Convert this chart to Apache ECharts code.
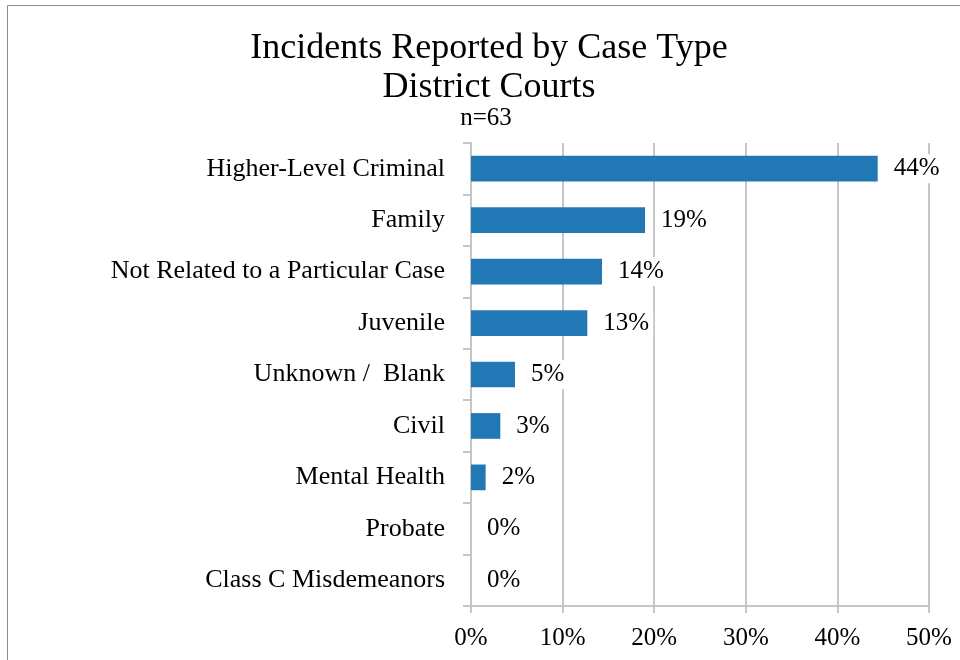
<!DOCTYPE html>
<html>
<head>
<meta charset="utf-8">
<script src="https://cdn.jsdelivr.net/npm/echarts@6/dist/echarts.min.js"></script>
<style>
  html, body { margin: 0; padding: 0; background: #fff; }
  #chart { width: 960px; height: 660px; }
</style>
</head>
<body>
<div id="chart"></div>
<script>
// case types, top to bottom
var caseTypes = ['Higher-Level Criminal', 'Family', 'Not Related to a Particular Case', 'Juvenile',
    'Unknown /  Blank', 'Civil', 'Mental Health', 'Probate', 'Class C Misdemeanors'];
// share of incidents, percent (n=63)
var shares = [44.4, 19.0, 14.3, 12.7, 4.8, 3.2, 1.6, 0, 0];
var pctTicks = ['0%', '10%', '20%', '30%', '40%', '50%'];

var fontFam = '"Liberation Serif", "DejaVu Serif", serif';
var gridGray = '#c6c6c6';

var chart = echarts.init(document.getElementById('chart'));

chart.setOption({
    animation: false,
    graphic: [
        {
            type: 'rect',
            shape: {x: 7.5, y: 5.5, width: 1000, height: 700},
            style: {fill: 'none', stroke: '#8c8c8c', lineWidth: 1}
        },
        {
            type: 'text', x: 489, y: 31,
            style: {text: 'Incidents Reported by Case Type', align: 'center', verticalAlign: 'top',
                font: '36px ' + fontFam, fill: '#000'}
        },
        {
            type: 'text', x: 489, y: 70,
            style: {text: 'District Courts', align: 'center', verticalAlign: 'top',
                font: '36px ' + fontFam, fill: '#000'}
        },
        {
            type: 'text', x: 486, y: 106,
            style: {text: 'n=63', align: 'center', verticalAlign: 'top',
                font: '25px ' + fontFam, fill: '#000'}
        }
    ],
    grid: {
        left: 471,
        right: 31,
        top: 143,
        bottom: 54,
        containLabel: false
    },
    xAxis: {
        type: 'value',
        min: 0,
        max: 50,
        interval: 10,
        axisLine: {show: true, lineStyle: {color: gridGray, width: 2}},
        axisTick: {show: true, length: 7, lineStyle: {color: gridGray, width: 2}},
        splitLine: {show: true, lineStyle: {color: gridGray, width: 2}},
        axisLabel: {
            margin: 20,
            fontFamily: fontFam,
            fontSize: 25,
            color: '#000',
            formatter: function (v) { return pctTicks[v / 10]; }
        }
    },
    yAxis: {
        type: 'category',
        inverse: true,
        data: caseTypes,
        axisLine: {show: true, lineStyle: {color: gridGray, width: 2}},
        axisTick: {show: true, length: 8, lineStyle: {color: gridGray, width: 2}},
        axisLabel: {
            margin: 26,
            fontFamily: fontFam,
            fontSize: 26,
            color: '#000'
        }
    },
    series: [
        {
            type: 'bar',
            data: shares,
            barWidth: '50%',
            itemStyle: {color: '#2278b5'},
            label: {
                show: true,
                position: 'right',
                distance: 12,
                fontFamily: fontFam,
                fontSize: 25,
                color: '#000',
                backgroundColor: '#fff',
                padding: [2, 4],
                formatter: function (p) { return Math.round(p.value) + '%'; }
            }
        }
    ]
});
</script>
</body>
</html>
